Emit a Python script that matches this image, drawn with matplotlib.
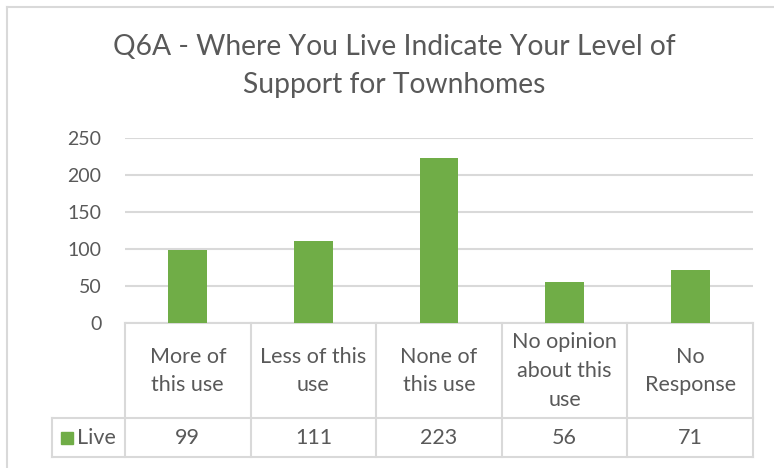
import matplotlib.pyplot as plt
from matplotlib.lines import Line2D
from matplotlib.patches import Rectangle

plt.rcParams['font.family'] = ['Lato', 'DejaVu Sans']

# data
categories = ['More of\nthis use', 'Less of this\nuse', 'None of\nthis use',
              'No opinion\nabout this\nuse', 'No\nResponse']
live = [99, 111, 223, 56, 71]
series_name = 'Live'
yticks = [0, 50, 100, 150, 200, 250]

W, H = 774, 468
green = '#70AD47'
grid = '#D9D9D9'
txt = '#595959'

fig = plt.figure(figsize=(W / 100, H / 100), dpi=100)

def fx(px):
    return px / W

def fy(py):
    return 1 - py / H

# plot area in pixels
left, right, top, bottom = 125, 753, 138, 323
ax = fig.add_axes([fx(left), fy(bottom), fx(right - left), (bottom - top) / H])
x = list(range(len(live)))
ax.bar(x, live, width=0.31, color=green, zorder=3)
ax.set_xlim(-0.5, len(live) - 0.5)
ax.set_ylim(0, 250)
ax.set_yticks(yticks)
ax.set_yticklabels([str(t) for t in yticks], fontsize=14, color=txt)
ax.tick_params(axis='y', length=0, pad=17)
ax.set_xticks([])
ax.grid(axis='y', color=grid, linewidth=1.5, zorder=0)
for s in ['top', 'right', 'left']:
    ax.spines[s].set_visible(False)
ax.spines['bottom'].set_color(grid)
ax.spines['bottom'].set_linewidth(1.5)

fig.text(fx(394), fy(66), 'Q6A - Where You Live Indicate Your Level of\nSupport for Townhomes',
         ha='center', va='center', fontsize=20.3, color=txt, linespacing=1.55)

# data table
n = len(categories)
colw = (right - left) / n
row1, row2 = 418, 457
leg_left = 52
fs = 15.5

def line(x0, y0, x1, y1):
    fig.add_artist(Line2D([fx(x0), fx(x1)], [fy(y0), fy(y1)], color=grid, lw=1.5))

for i in range(n + 1):
    xc = left + i * colw
    line(xc, bottom, xc, row2)
line(leg_left, row1, right, row1)
line(leg_left, row2, right, row2)
line(leg_left, row1, leg_left, row2)

for i, (c, v) in enumerate(zip(categories, live)):
    xc = left + (i + 0.5) * colw
    fig.text(fx(xc), fy(371), c, ha='center', va='center', fontsize=fs,
             color=txt, linespacing=1.55)
    fig.text(fx(xc), fy(438), str(v), ha='center', va='center', fontsize=fs, color=txt)

fig.add_artist(Rectangle((fx(61), fy(444)), fx(12), 12 / H, color=green,
                         transform=fig.transFigure))
fig.text(fx(77), fy(438), series_name, ha='left', va='center', fontsize=fs, color=txt)

# chart frame
line(7, 7, 773, 7)
line(7, 7, 7, 468)

fig.savefig('out.png', dpi=100, facecolor='white')
